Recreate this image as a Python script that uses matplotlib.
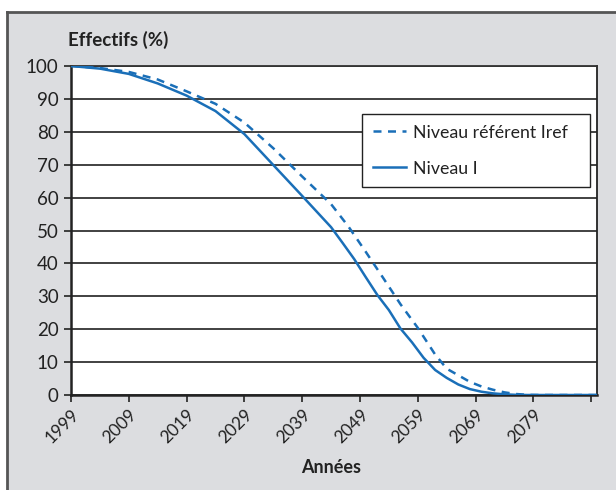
import matplotlib
matplotlib.use("Agg")
import matplotlib.pyplot as plt
from matplotlib.lines import Line2D
from matplotlib.patches import Rectangle

plt.rcParams['font.family'] = ['Lato', 'DejaVu Sans']

# Data
years_i = [1999, 2004, 2009, 2014, 2019, 2024, 2029, 2034, 2039, 2044, 2046, 2048,
           2050, 2052, 2054, 2056, 2058, 2060, 2062, 2064, 2066, 2068, 2070, 2072,
           2074, 2076, 2078, 2090]
niveau_i = [100, 99.2, 97.6, 94.7, 91.0, 86.3, 79.3, 69.9, 60.5, 51.0, 46.2, 41.3,
            35.8, 30.4, 25.8, 20.2, 16.0, 11.3, 7.6, 5.2, 3.2, 1.8, 1.0, 0.5,
            0.2, 0.05, 0, 0]
years_ref = [1999, 2004, 2009, 2014, 2019, 2024, 2029, 2034, 2039, 2044, 2047, 2050,
             2053, 2056, 2059, 2062, 2064, 2066, 2068, 2070, 2072, 2074, 2076, 2078,
             2080, 2090]
niveau_ref = [100, 99.4, 98.2, 95.9, 92.3, 88.5, 82.8, 75.0, 66.4, 58.0, 51.2, 43.5,
              35.6, 27.6, 20.4, 12.3, 8.0, 6.0, 4.0, 2.6, 1.6, 0.8, 0.3, 0.05,
              0, 0]
xticks = [1999, 2009, 2019, 2029, 2039, 2049, 2059, 2069, 2079, 2089]
xticklabels = ['1999', '2009', '2019', '2029', '2039', '2049', '2059', '2069', '2079', '']
yticks = [0, 10, 20, 30, 40, 50, 60, 70, 80, 90, 100]

W, H = 616, 490
fig = plt.figure(figsize=(W / 100, H / 100), dpi=100)
fig.patch.set_facecolor('white')

bg = '#dcdde0'
fig.patches.append(Rectangle((7 / W, 0), 1 - 7 / W, 1 - 12 / H, transform=fig.transFigure,
                             facecolor=bg, edgecolor='none', zorder=-10))
fig.lines.append(Line2D([7 / W, 1], [1 - 12 / H, 1 - 12 / H], transform=fig.transFigure,
                        color='#555555', lw=2.0, zorder=-9))
fig.lines.append(Line2D([7 / W, 7 / W], [0, 1 - 12 / H], transform=fig.transFigure,
                        color='#555555', lw=2.0, zorder=-9))

left, right, top, bottom = 71, 597, 66, 395
ax = fig.add_axes([left / W, 1 - bottom / H, (right - left) / W, (bottom - top) / H])
ax.set_zorder(1)
ax.set_facecolor('white')

blue = '#1a6fb8'
ax.plot(years_ref, niveau_ref, color=blue, lw=1.8, ls=(0, (3.2, 2.6)),
        label='Niveau référent Iref', zorder=3)
ax.plot(years_i, niveau_i, color=blue, lw=1.8, label='Niveau I', zorder=3)

ax.set_xlim(1999, 2090)
ax.set_ylim(0, 100)
ax.set_yticks(yticks)
ax.set_yticklabels([str(v) for v in yticks], fontsize=13.5, color='#222222')
ax.set_xticks(xticks)
ax.set_xticklabels(xticklabels, rotation=45, ha='right', rotation_mode='anchor',
                   fontsize=12.5, color='#222222')
ax.tick_params(axis='both', direction='out', length=5, width=1.2, color='#222222')
ax.tick_params(axis='y', pad=4)
ax.tick_params(axis='x', pad=3)

ax.grid(axis='y', color='#333333', lw=1.3, zorder=1)
ax.set_axisbelow(True)
for s in ['left', 'bottom']:
    ax.spines[s].set_color('#222222')
    ax.spines[s].set_linewidth(1.8)
ax.spines['right'].set_color('#222222')
ax.spines['right'].set_linewidth(1.3)
ax.spines['top'].set_color('#333333')
ax.spines['top'].set_linewidth(1.3)

fig.text(68 / W, 1 - 40 / H, 'Effectifs (%)', fontsize=13.5, fontweight='bold',
         color='#222222', ha='left', va='center')
fig.text(331 / W, 1 - 467 / H, 'Années', fontsize=13, fontweight='bold',
         color='#222222', ha='center', va='center')

lx0, lx1, ly0, ly1 = 362, 590, 114, 185
leg = ax.legend(loc='upper left',
                bbox_to_anchor=(lx0 / W, 1 - ly1 / H, (lx1 - lx0) / W, (ly1 - ly0) / H),
                bbox_transform=fig.transFigure, mode='expand', fontsize=12.8,
                frameon=True, fancybox=False, edgecolor='#222222', framealpha=1,
                handlelength=1.9, handletextpad=0.35, borderpad=0.6,
                labelspacing=1.12, borderaxespad=0)
leg.get_frame().set_linewidth(1.0)
for t in leg.get_texts():
    t.set_color('#222222')

fig.savefig('out.png', dpi=100)
